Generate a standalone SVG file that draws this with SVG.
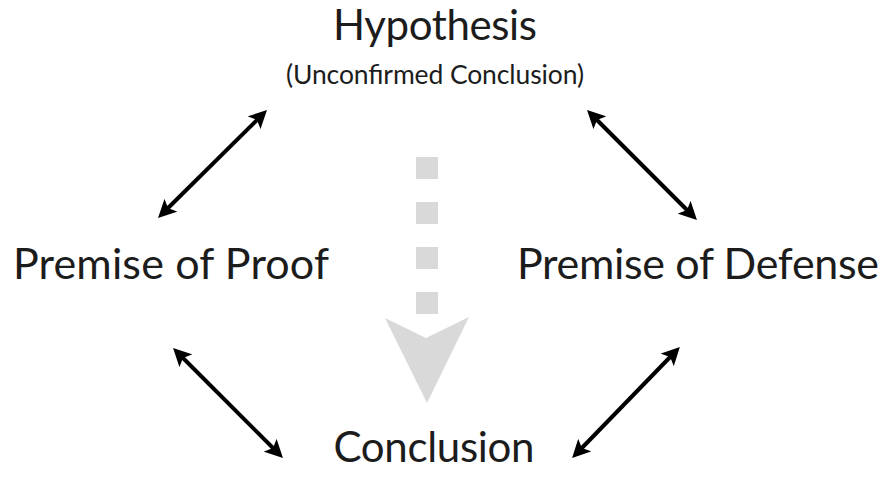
<svg xmlns="http://www.w3.org/2000/svg" width="883" height="477" viewBox="0 0 883 477">
  <style>
    .lbl { font-family: Lato, "Open Sans", "Liberation Sans", sans-serif; fill: #1c1c1c; }
    .big { font-size: 42px; }
    .mid { font-size: 43px; }
    .sub { font-size: 26.5px; }
    .conn { stroke: #000; stroke-width: 4; fill: none; marker-start: url(#ah); marker-end: url(#ah); }
    .flow { fill: #d9d9d9; }
  </style>
  <defs>
    <marker id="ah" viewBox="0 -9 18 18" refX="11" refY="0" markerWidth="18" markerHeight="18" markerUnits="userSpaceOnUse" orient="auto-start-reverse">
      <path d="M0,-9 L18,0 L0,9 L4,0 Z" fill="#000"/>
    </marker>
  </defs>
  <rect width="883" height="477" fill="#fff"/>

  <g id="hypothesis">
    <text class="lbl big" x="435" y="40" text-anchor="middle" textLength="204">Hypothesis</text>
    <text class="lbl sub" x="435" y="84" text-anchor="middle" textLength="298">(Unconfirmed Conclusion)</text>
  </g>
  <g id="premise-proof">
    <text class="lbl mid" x="171" y="279" text-anchor="middle" textLength="316">Premise of Proof</text>
  </g>
  <g id="premise-defense">
    <text class="lbl mid" x="698" y="279" text-anchor="middle" textLength="362">Premise of Defense</text>
  </g>
  <g id="conclusion">
    <text class="lbl big" x="434" y="462" text-anchor="middle" textLength="201">Conclusion</text>
  </g>

  <g id="flow-arrow">
    <rect class="flow" x="416" y="157" width="22" height="22"/>
    <rect class="flow" x="416" y="202" width="22" height="22"/>
    <rect class="flow" x="416" y="247" width="22" height="22"/>
    <rect class="flow" x="416" y="292" width="22" height="22"/>
    <polygon class="flow" points="385,318 426,338 469,317 427,403"/>
  </g>

  <g id="connectors">
    <line class="conn" x1="163" y1="213" x2="262" y2="115"/>
    <line class="conn" x1="592" y1="115" x2="692" y2="215"/>
    <line class="conn" x1="178" y1="353" x2="278" y2="453"/>
    <line class="conn" x1="675" y1="352" x2="577" y2="453"/>
  </g>
</svg>
